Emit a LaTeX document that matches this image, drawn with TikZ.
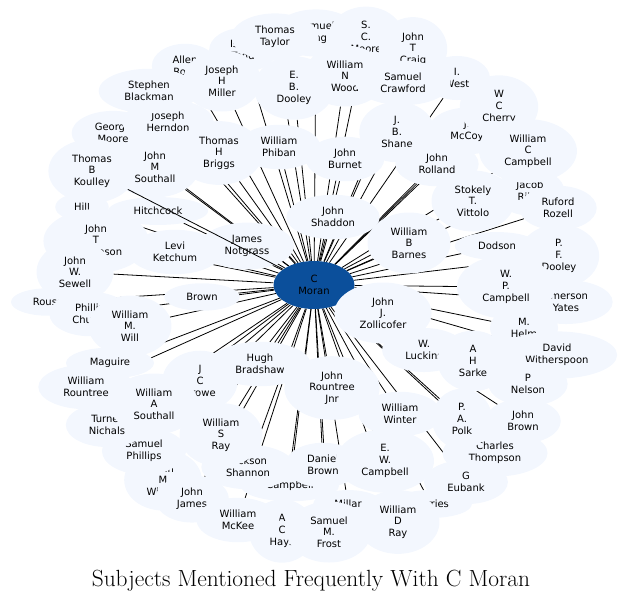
\documentclass[tikz,border=0pt]{standalone}
\usepackage{fontspec}
\newfontfamily\subjfont{DejaVu Sans}
\usepackage{tikz}
\usetikzlibrary{shapes.geometric, backgrounds}
\definecolor{cloudblue}{RGB}{243,247,254}
\definecolor{hubblue}{RGB}{11,79,155}

\begin{document}
\begin{tikzpicture}[
    x=1pt, y=-1pt,
    subj/.style={ellipse, fill=cloudblue, inner xsep=11pt, inner ysep=6pt, align=center,
                 font=\subjfont\fontsize{10}{11.7}\selectfont},
    hub/.style={ellipse, fill=hubblue, minimum width=81pt, minimum height=48pt,
                inner sep=0pt, align=center, font=\subjfont\fontsize{10}{11.7}\selectfont},
    spoke/.style={line width=0.8pt},
    caption/.style={font=\fontsize{23.4}{27}\selectfont, inner sep=0pt},
  ]
  \useasboundingbox (0,0) rectangle (624,603);

  \node[hub] (moran) at (314,285) {C\\Moran};

  % subjects half hidden at the back
  \node[subj] (isaac)    at (243,50)  {Isaac\\Todd};
  \node[subj] (allen)    at (185,66)  {Allen\\Ross};
  \node[subj] (sking)    at (316,33)  {Samuel\\King};
  \node[subj] (scmoore)  at (366,37)  {S.\\C.\\Moore};
  \node[subj] (jtcraig)  at (413,49)  {John\\T\\Craig};
  \node[subj] (iwest)    at (457,78)  {I.\\West};
  \node[subj] (jmccoy)   at (467,131) {J.\\McCoy};
  \node[subj] (jriley)   at (530,192) {Jacob\\Riley};
  \node[subj] (eyates)   at (566,302) {Emerson\\Yates};
  \node[subj] (mhelm)    at (524,328) {M.\\Helm};
  \node[subj] (dwither)  at (557,355) {David\\Witherspoon};
  \node[subj] (cthomp)   at (495,453) {Charles\\Thompson};
  \node[subj] (harries)  at (431,504) {Harries};
  \node[subj] (millar)   at (348,504) {Millar};
  \node[subj] (campb)    at (290,486) {Campbell};
  \node[subj] (achays)   at (282,531) {A\\C\\Hays};
  \node[subj] (jmwilson) at (163,480) {John\\M\\Wilson};
  \node[subj] (sphill)   at (144,451) {Samuel\\Phillips};
  \node[subj] (tnich)    at (107,425) {Turner\\Nichals};
  \node[subj] (maguire)  at (110,363) {Maguire};
  \node[subj] (rouse)    at (48,302)  {Rouse};
  \node[subj] (pchurch)  at (90,314)  {Phillip\\Church};
  \node[subj] (hill)     at (82,207)  {Hill};
  \node[subj] (jtthomp)  at (96,241)  {John\\T\\Thompson};
  \node[subj] (gmoore)   at (113,133) {George\\Moore};
  \node[subj] (jherndon) at (168,122) {Joseph\\Herndon};
  \node[subj] (jmsouth)  at (155,167) {John\\M\\Southall};
  \node[subj] (brown)    at (202,297) {Brown};
  \node[subj] (jccrowe)  at (200,381) {J\\C\\Crowe};
  \node[subj] (hugh)     at (260,364) {Hugh\\Bradshaw};
  \node[subj] (jshannon) at (248,467) {Jackson\\Shannon};

  % subjects in front
  \node[subj] (ttaylor)  at (275,37)  {Thomas\\Taylor};
  \node[subj] (jhmiller) at (222,81)  {Joseph\\H\\Miller};
  \node[subj] (ebdooley) at (294,88)  {E.\\B.\\Dooley};
  \node[subj] (wnwood)   at (345,76)  {William\\N\\Wood};
  \node[subj] (scrawf)   at (403,83)  {Samuel\\Crawford};
  \node[subj] (wccherry) at (499,107) {W\\C\\Cherry};
  \node[subj] (sblack)   at (149,91)  {Stephen\\Blackman};
  \node[subj] (jbshane)  at (397,132) {J.\\B.\\Shane};
  \node[subj] (wccamp)   at (528,151) {William\\C\\Campbell};
  \node[subj] (jrolland) at (437,164) {John\\Rolland};
  \node[subj] (tbkoul)   at (92,171)  {Thomas\\B\\Koulley};
  \node[subj] (thbriggs) at (219,153) {Thomas\\H\\Briggs};
  \node[subj] (wphiban)  at (279,147) {William\\Phiban};
  \node[subj] (jburnet)  at (345,159) {John\\Burnet};
  \node[subj] (hitch)    at (158,211) {Hitchcock};
  \node[subj] (stvitt)   at (473,201) {Stokely\\T.\\Vittolo};
  \node[subj] (rrozell)  at (558,208) {Ruford\\Rozell};
  \node[subj] (jshaddon) at (333,217) {John\\Shaddon};
  \node[subj] (wbbarnes) at (409,243) {William\\B\\Barnes};
  \node[subj] (jnotg)    at (247,246) {James\\Notgrass};
  \node[subj] (lketch)   at (175,252) {Levi\\Ketchum};
  \node[subj] (dodson)   at (497,246) {Dodson};
  \node[subj] (pfdooley) at (559,256) {P.\\F.\\Dooley};
  \node[subj] (jwsewell) at (75,272)  {John\\W.\\Sewell};
  \node[subj] (wpcamp)   at (506,287) {W.\\P.\\Campbell};
  \node[subj] (wmwill)   at (130,326) {William\\M.\\Will};
  \node[subj] (jjzoll)   at (383,313) {John\\J.\\Zollicofer};
  \node[subj] (wluck)    at (424,350) {W.\\Luckins};
  \node[subj] (ahsarke)  at (473,361) {A\\H\\Sarke};
  \node[subj] (pnelson)  at (528,384) {P\\Nelson};
  \node[subj] (wrount)   at (86,387)  {William\\Rountree};
  \node[subj] (wasouth)  at (154,404) {William\\A\\Southall};
  \node[subj] (jrjnr)    at (332,388) {John\\Rountree\\Jnr};
  \node[subj] (wwinter)  at (400,414) {William\\Winter};
  \node[subj] (papolk)   at (462,419) {P.\\A.\\Polk};
  \node[subj] (jbrown)   at (523,421) {John\\Brown};
  \node[subj] (wsray)    at (221,435) {William\\S\\Ray};
  \node[subj] (dbrown)   at (323,465) {Daniel\\Brown};
  \node[subj] (ewcamp)   at (385,461) {E.\\W.\\Campbell};
  \node[subj] (geubank)  at (466,482) {G\\Eubank};
  \node[subj] (jjames)   at (192,499) {John\\James};
  \node[subj] (wmckee)   at (238,520) {William\\McKee};
  \node[subj] (smfrost)  at (329,532) {Samuel\\M.\\Frost};
  \node[subj] (wdray)    at (398,522) {William\\D\\Ray};

  \node[caption] (title) at (311,581) {Subjects Mentioned Frequently With C Moran};

  % this one runs over Hitchcock
  \draw[spoke] (moran) -- (tbkoul);

  \begin{scope}[on background layer]
    \draw[spoke] (moran) -- (isaac);
    \draw[spoke] (moran) -- (allen);
    \draw[spoke] (moran) -- (sking);
    \draw[spoke] (moran) -- (scmoore);
    \draw[spoke] (moran) -- (jtcraig);
    \draw[spoke] (moran) -- (iwest);
    \draw[spoke] (moran) -- (jmccoy);
    \draw[spoke] (moran) -- (jriley);
    \draw[spoke] (moran) -- (eyates);
    \draw[spoke] (moran) -- (mhelm);
    \draw[spoke] (moran) -- (dwither);
    \draw[spoke] (moran) -- (cthomp);
    \draw[spoke] (moran) -- (harries);
    \draw[spoke] (moran) -- (millar);
    \draw[spoke] (moran) -- (campb);
    \draw[spoke] (moran) -- (achays);
    \draw[spoke] (moran) -- (jmwilson);
    \draw[spoke] (moran) -- (sphill);
    \draw[spoke] (moran) -- (tnich);
    \draw[spoke] (moran) -- (maguire);
    \draw[spoke] (moran) -- (rouse);
    \draw[spoke] (moran) -- (pchurch);
    \draw[spoke] (moran) -- (hill);
    \draw[spoke] (moran) -- (jtthomp);
    \draw[spoke] (moran) -- (gmoore);
    \draw[spoke] (moran) -- (jherndon);
    \draw[spoke] (moran) -- (jmsouth);
    \draw[spoke] (moran) -- (brown);
    \draw[spoke] (moran) -- (jccrowe);
    \draw[spoke] (moran) -- (hugh);
    \draw[spoke] (moran) -- (jshannon);
    \draw[spoke] (moran) -- (ttaylor);
    \draw[spoke] (moran) -- (jhmiller);
    \draw[spoke] (moran) -- (ebdooley);
    \draw[spoke] (moran) -- (wnwood);
    \draw[spoke] (moran) -- (scrawf);
    \draw[spoke] (moran) -- (wccherry);
    \draw[spoke] (moran) -- (sblack);
    \draw[spoke] (moran) -- (jbshane);
    \draw[spoke] (moran) -- (wccamp);
    \draw[spoke] (moran) -- (jrolland);
    \draw[spoke] (moran) -- (thbriggs);
    \draw[spoke] (moran) -- (wphiban);
    \draw[spoke] (moran) -- (jburnet);
    \draw[spoke] (moran) -- (hitch);
    \draw[spoke] (moran) -- (stvitt);
    \draw[spoke] (moran) -- (rrozell);
    \draw[spoke] (moran) -- (jshaddon);
    \draw[spoke] (moran) -- (wbbarnes);
    \draw[spoke] (moran) -- (jnotg);
    \draw[spoke] (moran) -- (lketch);
    \draw[spoke] (moran) -- (dodson);
    \draw[spoke] (moran) -- (pfdooley);
    \draw[spoke] (moran) -- (jwsewell);
    \draw[spoke] (moran) -- (wpcamp);
    \draw[spoke] (moran) -- (wmwill);
    \draw[spoke] (moran) -- (jjzoll);
    \draw[spoke] (moran) -- (wluck);
    \draw[spoke] (moran) -- (ahsarke);
    \draw[spoke] (moran) -- (pnelson);
    \draw[spoke] (moran) -- (wrount);
    \draw[spoke] (moran) -- (wasouth);
    \draw[spoke] (moran) -- (jrjnr);
    \draw[spoke] (moran) -- (wwinter);
    \draw[spoke] (moran) -- (papolk);
    \draw[spoke] (moran) -- (jbrown);
    \draw[spoke] (moran) -- (wsray);
    \draw[spoke] (moran) -- (dbrown);
    \draw[spoke] (moran) -- (ewcamp);
    \draw[spoke] (moran) -- (geubank);
    \draw[spoke] (moran) -- (jjames);
    \draw[spoke] (moran) -- (wmckee);
    \draw[spoke] (moran) -- (smfrost);
    \draw[spoke] (moran) -- (wdray);
  \end{scope}

\end{tikzpicture}
\end{document}
